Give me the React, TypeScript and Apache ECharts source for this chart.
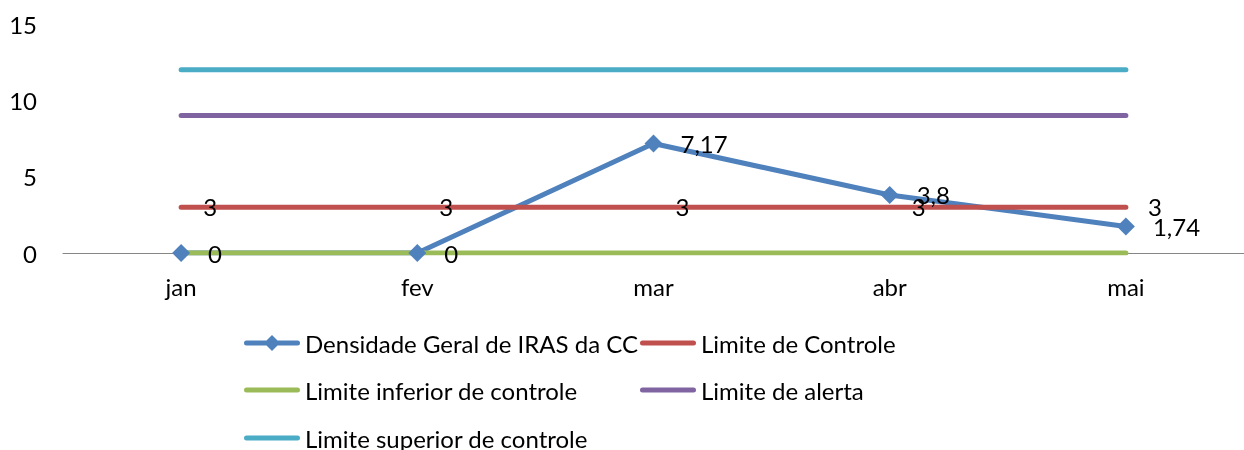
import React, { useEffect, useRef } from "react";
import * as echarts from "echarts";

const months = ["jan", "fev", "mar", "abr", "mai"];
const densidade = [0, 0, 7.17, 3.8, 1.74];
const limiteControle = [3, 3, 3, 3, 3];
const limiteInferior = [0, 0, 0, 0, 0];
const limiteAlerta = [9, 9, 9, 9, 9];
const limiteSuperior = [12, 12, 12, 12, 12];
const yTicks = { min: 0, max: 15, interval: 5 };

const FONT = "Lato";
const FS = 24;
const specks = "M0,0 L0.01,0 L0,0.01 Z M56,20 L55.99,20 L56,19.99 Z ";
const bar = "M2.5,7.5 L53.5,7.5 A2.5,2.5 0 0 1 53.5,12.5 L2.5,12.5 A2.5,2.5 0 0 1 2.5,7.5 Z";
const lineIcon = "path://" + specks + bar;
const diamondIcon = "path://" + specks + bar + " M28,2 L36,10 L28,18 L20,10 Z";

export default function App() {
  const ref = useRef<HTMLDivElement>(null);
  useEffect(() => {
    if (!ref.current) return;
    const chart = echarts.init(ref.current, undefined, { renderer: "svg" });
    const fmt = (p: any) => String(p.value).replace(".", ",");
    const limitSeries = (name: string, data: number[], color: string, label: boolean) => ({
      name,
      type: "line",
      data,
      symbol: "circle",
      symbolSize: 0.1,
      showSymbol: true,
      itemStyle: { color },
      lineStyle: { color, width: 5, cap: "round" },
      label: label
        ? {
            show: true,
            position: "right",
            distance: 22,
            offset: [0, -1],
            color: "#000",
            fontFamily: FONT,
            fontSize: FS,
            formatter: fmt,
          }
        : { show: false },
    });
    const legendItem = (name: string, icon: string, left: number, top: number) => ({
      left,
      top,
      orient: "horizontal",
      padding: 0,
      itemWidth: 56,
      itemHeight: 20,
      itemTextGap: 4,
      textStyle: { color: "#000", fontFamily: FONT, fontSize: FS },
      data: [{ name, icon }],
    });
    chart.setOption({
      animation: false,
      grid: { left: 63, right: -4.5, top: 24, bottom: 197 },
      xAxis: {
        type: "category",
        data: months,
        boundaryGap: true,
        axisTick: { show: false },
        axisLine: { lineStyle: { color: "#868686", width: 1 } },
        axisLabel: { color: "#000", fontFamily: FONT, fontSize: FS, margin: 21 },
      },
      yAxis: {
        type: "value",
        min: yTicks.min,
        max: yTicks.max,
        interval: yTicks.interval,
        splitLine: { show: false },
        axisLine: { show: false },
        axisTick: { show: false },
        axisLabel: { color: "#000", fontFamily: FONT, fontSize: FS, margin: 26 },
      },
      legend: [
        legendItem("Densidade Geral de IRAS da CC", diamondIcon, 244, 331),
        legendItem("Limite de Controle", lineIcon, 640, 331),
        legendItem("Limite inferior de controle", lineIcon, 244, 378),
        legendItem("Limite de alerta", lineIcon, 640, 378),
        legendItem("Limite superior de controle", lineIcon, 244, 426),
      ],
      series: [
        {
          name: "Densidade Geral de IRAS da CC",
          type: "line",
          data: densidade,
          symbol: "diamond",
          symbolSize: 18,
          itemStyle: { color: "#4F81BD" },
          lineStyle: { color: "#4F81BD", width: 5 },
          label: {
            show: true,
            position: "right",
            distance: 18,
            offset: [0, 0],
            color: "#000",
            fontFamily: FONT,
            fontSize: FS,
            formatter: fmt,
          },
        },
        limitSeries("Limite de Controle", limiteControle, "#C0504D", true),
        limitSeries("Limite inferior de controle", limiteInferior, "#9BBB59", false),
        limitSeries("Limite de alerta", limiteAlerta, "#8064A2", false),
        limitSeries("Limite superior de controle", limiteSuperior, "#4BACC6", false),
      ],
    });
    return () => chart.dispose();
  }, []);
  return (
    <div
      ref={ref}
      style={{ position: "fixed", left: 0, top: 0, width: 1244, height: 450 }}
    />
  );
}
